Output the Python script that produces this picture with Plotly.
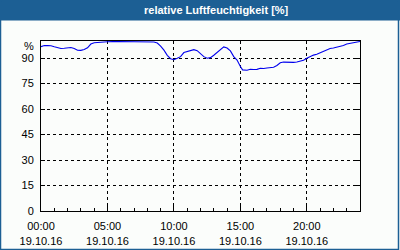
import plotly.graph_objects as go

day = "2016-10-19"
times = ["00:00","00:15","00:30","00:45","01:00","01:15","01:30","01:45","02:00","02:15",
         "02:30","02:45","03:00","03:15","03:30","03:45","04:00","04:15","04:30","04:45",
         "05:00","05:30","06:00","06:30","07:00","07:30","08:00","08:30","08:45","09:00",
         "09:15","09:30","09:45","10:00","10:15","10:30","10:45","11:00","11:15","11:30",
         "11:45","12:00","12:15","12:30","12:45","13:00","13:15","13:30","13:45","14:00",
         "14:15","14:30","14:45","15:00","15:10","15:30","15:45","16:00","16:15","16:30",
         "16:45","17:00","17:15","17:30","17:45","18:00","18:15","18:30","18:45","19:00",
         "19:15","19:30","19:45","20:00","20:15","20:30","20:45","21:00","21:15","21:30",
         "21:45","22:00","22:15","22:30","22:45","23:00","23:15","23:30","23:45"]
humidity = [96.7,97.3,97.3,97.2,96.6,95.9,95.6,95.7,95.8,96.2,
            95.6,94.6,94.5,95.0,96.0,98.2,99.0,99.2,99.2,99.3,
            99.6,99.7,99.7,99.7,99.7,99.7,99.7,99.4,98.8,97.0,
            94.6,91.6,89.6,89.0,89.8,90.8,93.2,93.9,94.2,94.9,
            94.3,92.4,90.8,89.9,90.2,91.6,93.4,95.2,96.5,95.9,
            94.2,90.8,88.8,85.0,83.0,82.8,83.4,83.2,83.3,84.0,
            83.8,84.1,84.3,84.6,85.6,87.2,87.6,87.4,87.3,87.4,
            87.6,88.2,88.7,89.9,91.0,91.7,92.2,93.0,93.7,94.6,
            95.6,95.9,96.3,96.9,97.4,98.2,98.6,99.0,99.5]
last_time = "2016-10-20 00:00"
last_value = 99.7

y_ticks = [0, 15, 30, 45, 60, 75, 90]
title_text = "relative Luftfeuchtigkeit [%]"
unit_label = "%"

x = [f"{day} {t}" for t in times] + [last_time]
y = humidity + [last_value]

W, H = 400, 250
L, R, T, B = 41, 40, 41, 39
pw, ph = W - L - R, H - T - B

def px(xp):
    return (xp - L) / pw

def py(yp):
    return (H - B - yp) / ph

BLUE = "#1c5f94"
font = dict(family="Liberation Sans, Arial, sans-serif", size=11, color="black")

fig = go.Figure()
fig.add_trace(go.Scatter(x=x, y=y, mode="lines",
                         line=dict(color="#0000ee", width=1.1), hoverinfo="skip"))

fig.update_layout(
    width=W, height=H,
    margin=dict(l=L, r=R, t=T, b=B, autoexpand=False),
    paper_bgcolor="#fbfdfb", plot_bgcolor="#fbfdfb",
    showlegend=False, font=font,
    xaxis=dict(type="date", range=[f"{day} 00:00", last_time],
               dtick=5 * 3600000, tick0=f"{day} 00:00",
               tickformat="%H:%M<br>%d.%m.%y",
               showgrid=True, gridcolor="black", griddash="3px,3px", gridwidth=1,
               showline=True, linecolor="black", linewidth=1, mirror=True,
               ticks="inside", ticklen=5, tickcolor="black",
               minor=dict(dtick=3600000, ticks="inside", ticklen=3, tickcolor="black", showgrid=False),
               ticklabelstandoff=5, automargin=False,
               zeroline=False, tickfont=font),
    yaxis=dict(range=[0, 100], tickvals=y_ticks, ticktext=[str(v) for v in y_ticks],
               showgrid=True, gridcolor="black", griddash="3px,3px", gridwidth=1,
               showline=True, linecolor="black", linewidth=1, mirror="ticks",
               ticks="inside", ticklen=4, tickcolor="black",
               ticklabelstandoff=4, automargin=False,
               zeroline=False, tickfont=font),
    shapes=[
        dict(type="rect", xref="paper", yref="paper",
             x0=px(0), x1=px(W), y0=py(20.5), y1=py(0),
             fillcolor=BLUE, line=dict(width=0), layer="above"),
        dict(type="rect", xref="paper", yref="paper",
             x0=px(0.5), x1=px(398.5), y0=py(249.5), y1=py(0.5),
             fillcolor="rgba(0,0,0,0)", line=dict(color=BLUE, width=1.5), layer="above"),
    ],
    annotations=[
        dict(text=f"<b>{title_text}</b>", xref="paper", yref="paper",
             x=px(216), y=py(10.5), xanchor="center", yanchor="middle",
             showarrow=False, font=dict(family="Liberation Sans, Arial, sans-serif", size=11, color="white")),
        dict(text=unit_label, xref="paper", yref="y",
             x=px(36), y=97.3, xanchor="right", yanchor="middle",
             showarrow=False, font=font),
    ],
)

fig.write_html("out.html")
